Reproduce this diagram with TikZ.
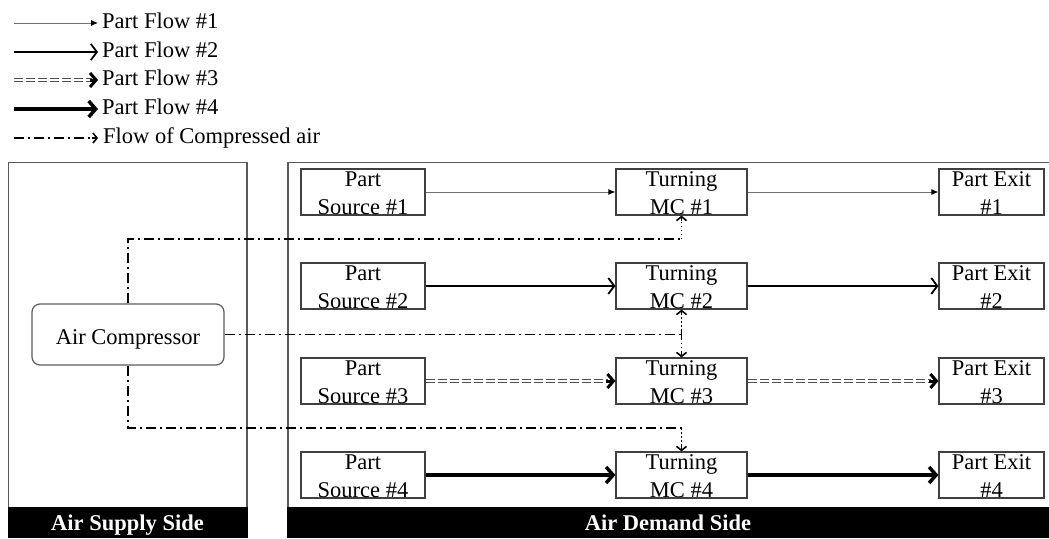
\documentclass[tikz,border=0pt]{standalone}
\usepackage{fontspec}
\setmainfont{Liberation Serif}
\usetikzlibrary{arrows.meta,calc}
\definecolor{boxgray}{HTML}{404040}
\definecolor{panelgray}{HTML}{5A5A5A}
\definecolor{thingray}{HTML}{707070}
\definecolor{dblgray}{HTML}{505050}
\begin{document}
\begin{tikzpicture}[x=1pt,y=-1pt,
  every node/.style={font=\fontsize{22.5}{27.5}\selectfont},
  boxnode/.style={draw=boxgray,line width=1.2pt,minimum height=46pt,inner sep=0pt},
  srcbox/.style={boxnode,minimum width=124pt},
  mcbox/.style={boxnode,minimum width=131pt},
  exitbox/.style={boxnode,minimum width=105pt},
  boxtext/.style={align=center,inner sep=0pt,anchor=base},
  legtext/.style={inner sep=0pt,anchor=base west},
  flowA/.style={draw=thingray,line width=0.9pt,-{Latex[length=7pt,width=6pt,fill=black,color=black]}},
  flowB/.style={draw=black,line width=1.8pt,-{Straight Barb[length=6pt,width=16pt,line width=1.8pt]}},
  flowCline/.style={draw=dblgray,line width=1.2pt,double=white,double distance=1.6pt,dash pattern=on 9pt off 3pt},
  flowCtip/.style={draw=black,line width=3pt,-{Straight Barb[length=6pt,width=14pt,line width=3pt]}},
  flowD/.style={draw=black,line width=3.8pt,-{Straight Barb[length=7pt,width=16pt,line width=3.5pt]}},
  air/.style={draw=black,line width=1.6pt,dash pattern=on 10pt off 4pt on 2pt off 4pt},
  airdot/.style={draw=black,line width=1.2pt,dash pattern=on 1.5pt off 2.5pt},
  airhead/.style={draw=black,line width=1.4pt,-{Straight Barb[length=4pt,width=10pt,line width=1.6pt]}},
  legair/.style={draw=black,line width=1.4pt,dash pattern=on 10pt off 4pt on 2pt off 4pt},
  bartext/.style={text=white,font=\fontsize{22.5}{27}\selectfont\bfseries,inner sep=0pt,anchor=base}
]
\useasboundingbox (0,0) rectangle (1049,538);

% ---------- legend ----------
\node[legtext] (l1t) at (102,28) {Part Flow \#1};
\node[legtext] (l2t) at (102,57) {Part Flow \#2};
\node[legtext] (l3t) at (102,85) {Part Flow \#3};
\node[legtext] (l4t) at (102,114) {Part Flow \#4};
\node[legtext] (l5t) at (103,143) {Flow of Compressed air};
\coordinate (l1s) at (14,23);
\coordinate (l2s) at (14,52);
\coordinate (l3s) at (14,80);
\coordinate (l4s) at (14,109);
\coordinate (l5s) at (14,138);
\coordinate (l1e) at (98,23);
\coordinate (l2e) at (98,52);
\coordinate (l3e) at (98,80);
\coordinate (l4e) at (98,109);
\coordinate (l5e) at (98,138);
\draw[flowA] (l1s) -- (l1e);
\draw[flowB] (l2s) -- (l2e);
\draw[flowCline] (l3s) -- ($(l3e)+(-6,0)$);
\draw[flowCtip] ($(l3e)+(-8,0)$) -- (l3e);
\draw[flowD] (l4s) -- (l4e);
\draw[legair] (l5s) -- ($(l5e)+(-5,0)$);
\draw[airhead] ($(l5e)+(-6,0)$) -- (l5e);

% ---------- panels ----------
\draw[draw=panelgray,line width=1.5pt] (8.5,537) -- (8.5,162.5) -- (247,162.5) -- (247,537);
\draw[draw=panelgray,line width=1.5pt] (288,537) -- (288,162.5) -- (1049,162.5);
\fill[black] (8,507) rectangle (247.75,538);
\fill[black] (287.25,507) rectangle (1049,538);
\node[bartext] (supply) at (127.5,530) {Air Supply Side};
\node[bartext] (demand) at (668,530) {Air Demand Side};

% ---------- compressor ----------
\node[draw=panelgray,line width=1.2pt,rounded corners=8pt,minimum width=192pt,minimum height=61pt,inner sep=0pt] (comp) at (128,334.5) {};
\node[boxtext] (compt) at (128,344) {Air Compressor};

% ---------- boxes ----------
\foreach \i/\y in {1/192,2/286,3/381,4/475}{
  \node[srcbox] (s\i) at (363,\y) {};
  \node[mcbox] (m\i) at (681.5,\y) {};
  \node[exitbox] (e\i) at (991.5,\y) {};
  \node[boxtext] (s\i t) at ($(s\i.center)+(0,22)$) {Part\\Source \#\i};
  \node[boxtext] (m\i t) at ($(m\i.center)+(0,22)$) {Turning\\MC \#\i};
  \node[boxtext] (e\i t) at ($(e\i.center)+(0,22)$) {Part Exit\\\#\i};
}

% ---------- part flows ----------
\draw[flowA] (s1.east) -- (m1.west);
\draw[flowA] (m1.east) -- (e1.west);
\draw[flowB] (s2.east) -- (m2.west);
\draw[flowB] (m2.east) -- (e2.west);
\draw[flowCline] (s3.east) -- ($(m3.west)+(-7,0)$);
\draw[flowCtip] ($(m3.west)+(-9,0)$) -- (m3.west);
\draw[flowCline] (m3.east) -- ($(e3.west)+(-7,0)$);
\draw[flowCtip] ($(e3.west)+(-9,0)$) -- (e3.west);
\draw[flowD] (s4.east) -- (m4.west);
\draw[flowD] (m4.east) -- (e4.west);

% ---------- compressed air ----------
\coordinate (j1) at (681.5,239);
\coordinate (j2) at (681.5,334.5);
\coordinate (j3) at (681.5,428);
\draw[air] (comp.north) |- (j1);
\draw[air] (comp.east) -- (j2);
\draw[air] (comp.south) |- (j3);
\draw[airdot] (j1) -- ($(m1.south)+(0,4)$);
\draw[airhead] ($(m1.south)+(0,5)$) -- (m1.south);
\draw[airdot] (j2) -- ($(m2.south)+(0,4)$);
\draw[airhead] ($(m2.south)+(0,5)$) -- (m2.south);
\draw[airdot] (j2) -- ($(m3.north)+(0,-4)$);
\draw[airhead] ($(m3.north)+(0,-5)$) -- (m3.north);
\draw[airdot] (j3) -- ($(m4.north)+(0,-4)$);
\draw[airhead] ($(m4.north)+(0,-5)$) -- (m4.north);
\draw[black,line width=1.2pt] ($(j2)+(0,-5)$) -- ($(j2)+(0,5)$);
\end{tikzpicture}
\end{document}
